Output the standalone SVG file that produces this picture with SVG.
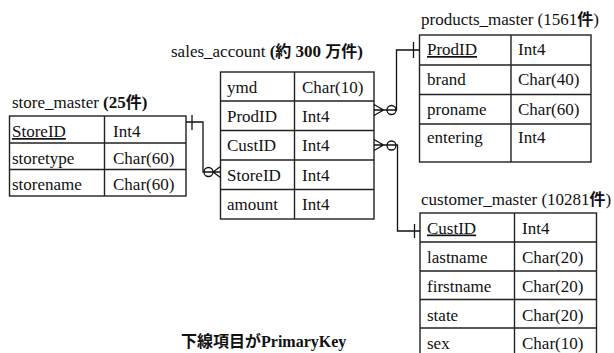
<svg xmlns="http://www.w3.org/2000/svg" width="614" height="353" viewBox="0 0 614 353">
  <style>
    text { font-family: "Liberation Serif", "Noto Sans CJK JP", serif; font-size: 17px; fill: #111; }
    .b { font-weight: bold; }
    .cjk { font-family: "Noto Sans CJK JP", sans-serif; font-weight: bold; font-size: 16px; }
    .cell { fill: #fff; stroke: #222; stroke-width: 1.4; }
    .grid { stroke: #222; stroke-width: 1.4; fill: none; }
    .con { stroke: #111; stroke-width: 1.3; fill: none; }
    .pk { text-decoration: underline; }
  </style>
  <rect width="614" height="353" fill="#fff"/>

  <!-- store_master -->
  <g id="store_master">
    <text x="12" y="108">store_master <tspan class="b">(25<tspan class="cjk">件</tspan>)</tspan></text>
    <rect class="cell" x="9.5" y="116" width="176.5" height="80"/>
    <path class="grid" d="M104.5,116V196M9.5,143H186M9.5,169.5H186"/>
    <text x="12" y="137" class="pk">StoreID</text><text x="113" y="137">Int4</text>
    <text x="12" y="163.5">storetype</text><text x="113" y="163.5">Char(60)</text>
    <text x="12" y="190">storename</text><text x="113" y="190">Char(60)</text>
  </g>

  <!-- sales_account -->
  <g id="sales_account">
    <text x="171" y="57">sales_account <tspan class="b">(<tspan class="cjk">約</tspan> 300 <tspan class="cjk">万件</tspan>)</tspan></text>
    <rect class="cell" x="220.5" y="72" width="153.5" height="147"/>
    <path class="grid" d="M294.5,72V219M220.5,101H374M220.5,130.5H374M220.5,160H374M220.5,189.5H374"/>
    <text x="227" y="93">ymd</text><text x="302" y="93">Char(10)</text>
    <text x="227" y="121.5">ProdID</text><text x="302" y="121.5">Int4</text>
    <text x="227" y="151">CustID</text><text x="302" y="151">Int4</text>
    <text x="227" y="180.5">StoreID</text><text x="302" y="180.5">Int4</text>
    <text x="227" y="210">amount</text><text x="302" y="210">Int4</text>
  </g>

  <!-- products_master -->
  <g id="products_master">
    <text x="421" y="25">products_master (1561<tspan class="cjk">件</tspan>)</text>
    <rect class="cell" x="419.5" y="35" width="171.5" height="127"/>
    <path class="grid" d="M511,35V162M419.5,65H591M419.5,94.5H591M419.5,124H591"/>
    <text x="427" y="55" class="pk">ProdID</text><text x="518" y="55">Int4</text>
    <text x="427" y="85">brand</text><text x="518" y="85">Char(40)</text>
    <text x="427" y="114.5">proname</text><text x="518" y="114.5">Char(60)</text>
    <text x="427" y="143">entering</text><text x="518" y="143">Int4</text>
  </g>

  <!-- customer_master -->
  <g id="customer_master">
    <text x="421" y="205">customer_master (10281<tspan class="cjk">件</tspan>)</text>
    <rect class="cell" x="420" y="213" width="176.5" height="144"/>
    <path class="grid" d="M514.5,213V357M420,242H596.5M420,271H596.5M420,299.5H596.5M420,328H596.5"/>
    <text x="427" y="233.5" class="pk">CustID</text><text x="522" y="233.5">Int4</text>
    <text x="427" y="263">lastname</text><text x="522" y="263">Char(20)</text>
    <text x="427" y="292">firstname</text><text x="522" y="292">Char(20)</text>
    <text x="427" y="320.5">state</text><text x="522" y="320.5">Char(20)</text>
    <text x="427" y="349">sex</text><text x="522" y="349">Char(10)</text>
  </g>

  <!-- relationships: one (tick) to zero-or-many (circle + crow's foot) -->
  <g id="connectors">
    <!-- store_master.StoreID -> sales_account.StoreID -->
    <path class="con" d="M186,122H203V172H220.5M192,115V130M213,172L220.5,166.5M213,172L220.5,177.5"/>
    <circle class="con" cx="208.5" cy="172" r="4.5"/>
    <!-- products_master.ProdID -> sales_account.ProdID -->
    <path class="con" d="M374,110H396.5V50H419.5M413.5,42V58M374,104.5L383.5,110L374,115.5"/>
    <circle class="con" cx="391.5" cy="110" r="4.5"/>
    <!-- customer_master.CustID -> sales_account.CustID -->
    <path class="con" d="M374,145H397.5V231H420M414.5,224V238M374,139.5L383.5,145L374,150.5"/>
    <circle class="con" cx="391.5" cy="145.5" r="4.5"/>
  </g>

  <text x="181" y="347" class="b" style="font-size:16px"><tspan class="cjk">下線項目が</tspan>PrimaryKey</text>
</svg>
